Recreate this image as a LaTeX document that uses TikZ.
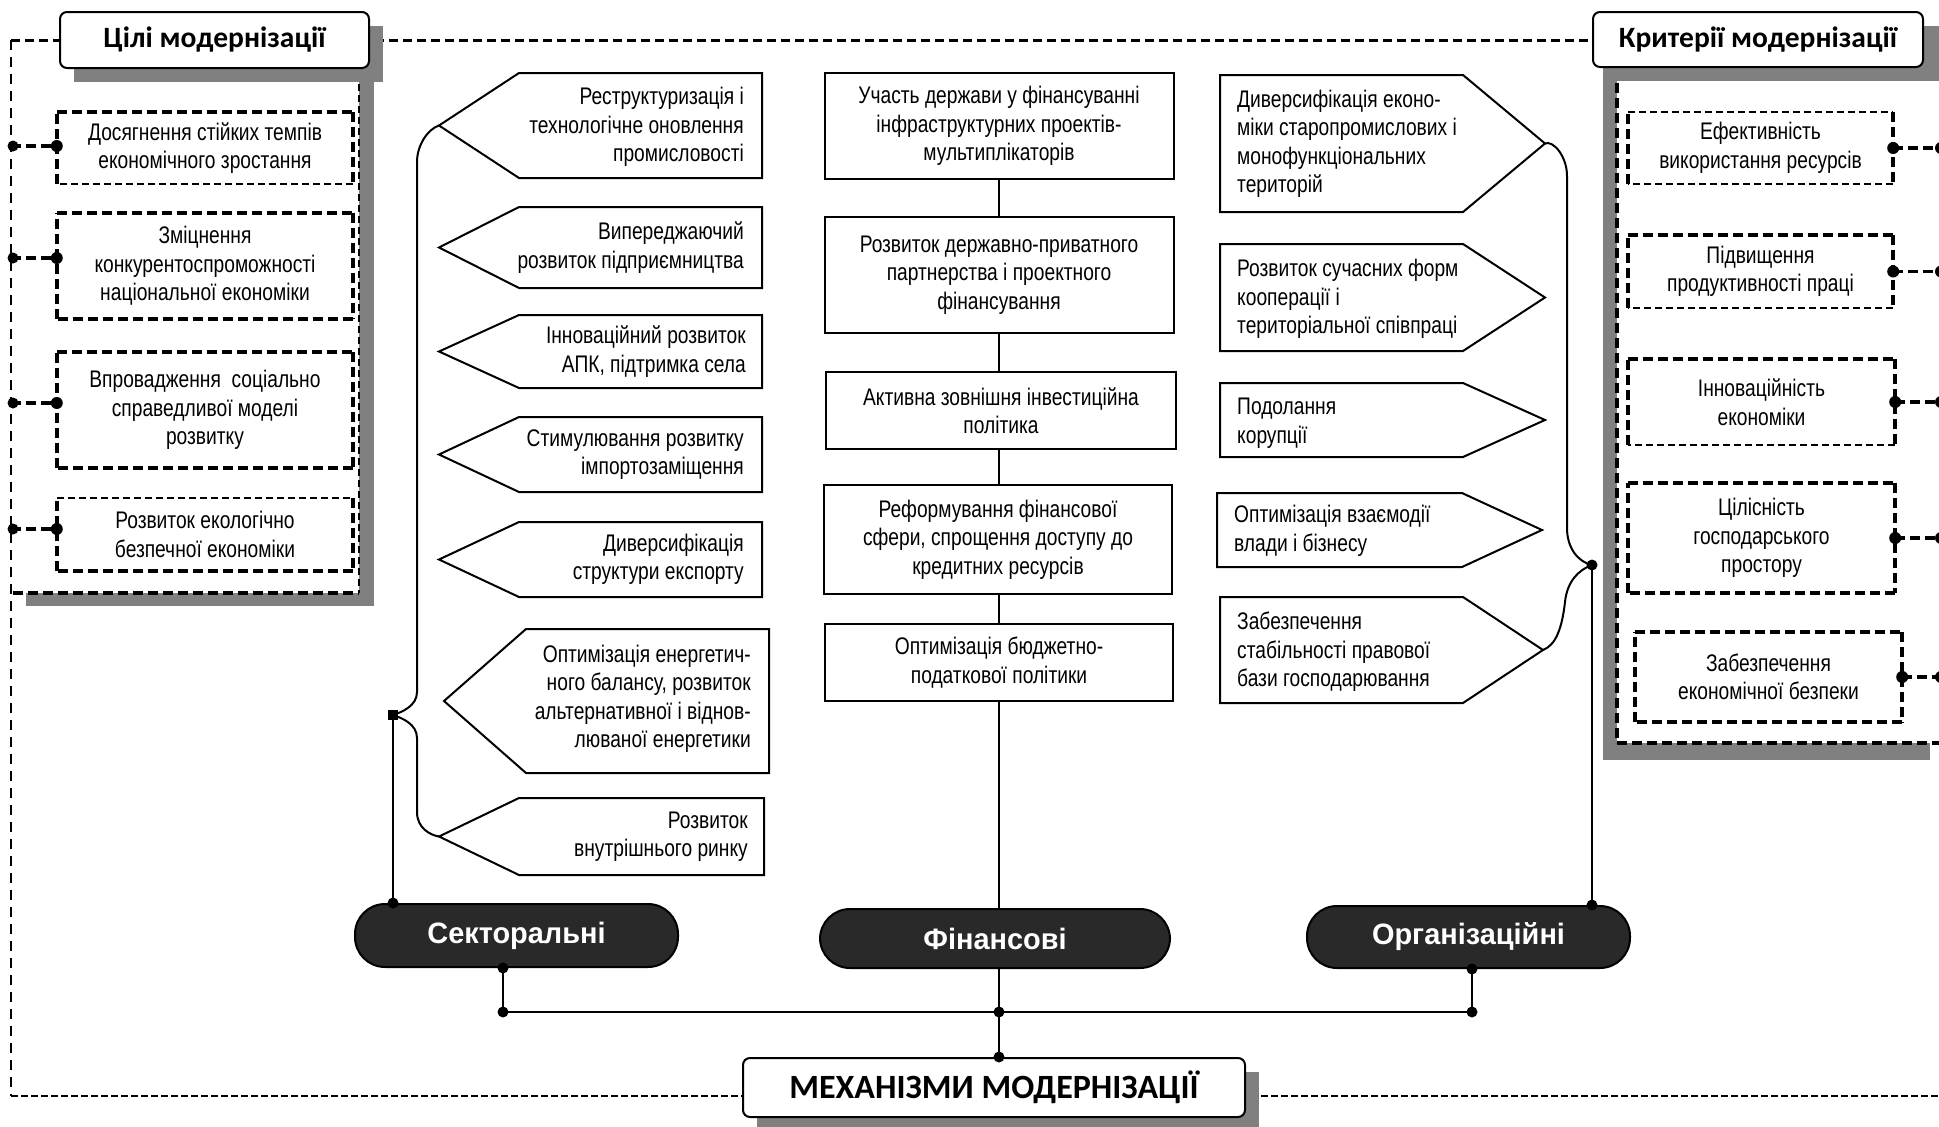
\documentclass[tikz,border=0pt]{standalone}
\usepackage{fontspec}
\setmainfont[FakeStretch=0.8]{Liberation Sans}
\newfontfamily\hdfont{Carlito}
\newfontfamily\dkfont[FakeStretch=0.98]{Liberation Sans}
\usetikzlibrary{calc}
\definecolor{shd}{gray}{0.5}
\definecolor{drk}{gray}{0.16}
\newcommand\boxsides[5]{%
  \draw[#2] (#1.north west) -- (#1.north east);
  \draw[#3] (#1.north east) -- (#1.south east);
  \draw[#4] (#1.south east) -- (#1.south west);
  \draw[#5] (#1.south west) -- (#1.north west);}
% name, tipx, flatx, rightx, top, bottom
\newcommand\pentl[6]{%
  \draw[pent] (#3,#5) -- (#4,#5) -- (#4,#6) -- (#3,#6) -- (#2,{(#5+#6)/2}) -- cycle;
  \coordinate (#1) at (#2,{(#5+#6)/2});}
% name, leftx, flatx, tipx, top, bottom
\newcommand\pentr[6]{%
  \draw[pent] (#2,#5) -- (#3,#5) -- (#4,{(#5+#6)/2}) -- (#3,#6) -- (#2,#6) -- cycle;
  \coordinate (#1) at (#4,{(#5+#6)/2});}
\begin{document}
\begin{tikzpicture}[x=1pt,y=-1pt,
  txt/.style={font=\fontsize{24}{28.5}\selectfont, inner sep=0pt},
  hdr/.style={draw, line width=2pt, fill=white, rounded corners=7pt, inner sep=0pt,
    font=\hdfont\bfseries\fontsize{29.5}{34}\selectfont},
  fbox/.style={txt, draw, line width=2pt, fill=white, align=center},
  gbox/.style={txt, align=center},
  pent/.style={draw, line width=2pt, fill=white, line join=miter},
  dnode/.style={draw=black, line width=2pt, fill=drk, rounded corners=30pt, text=white,
    inner sep=0pt, font=\dkfont\bfseries\fontsize{29.5}{34}\selectfont},
  conn/.style={line width=2pt},
  thk/.style={line width=3.5pt, dash pattern=on 10pt off 5pt},
  thn/.style={line width=1.5pt, dash pattern=on 7pt off 4pt},
  fthin/.style={line width=1.2pt, dash pattern=on 10pt off 7pt},
  fthick/.style={line width=3pt, dash pattern=on 9pt off 5pt},
  fbot/.style={line width=2.6pt, dash pattern=on 7pt off 3pt}
]
\useasboundingbox (0,0) rectangle (1939,1127);
\clip (0,0) rectangle (1939,1127);
\fill[white] (0,0) rectangle (1939,1127);

% ---------- panels ----------
\fill[shd] (26,53) rectangle (374,606);
\fill[white] (11,40) rectangle (359,593);
\fill[shd] (1603,57) rectangle (1930,760);
\fill[white] (1617,40) rectangle (1950,743);

% outer frame
\draw[fthin] (11,40) -- (11,1096);
\draw[fthick] (11,40) -- (1950,40);
\draw[fbot] (11,1096) -- (1950,1096);

% panel borders
\draw[thn] (359,40) -- (359,593);
\draw[thk] (13,593) -- (359,593);
\draw[thk] (1617,83) -- (1617,743);
\draw[thk] (1617,743) -- (1950,743);

% headers
\fill[shd] (74,26) rectangle (383,82);
\node[hdr, minimum width=309pt, minimum height=56pt] (hgoal) at (214.5,40) {Цілі модернізації};
\fill[shd] (1607,26) rectangle (1950,81);
\node[hdr, minimum width=330pt, minimum height=55pt] (hcrit) at (1758,39.5) {Критерії модернізації};

% ---------- goals ----------
\node[gbox, minimum width=296pt, minimum height=72pt] (g1) at (205,148) {Досягнення стійких темпів\\економічного зростання};
\node[gbox, minimum width=296pt, minimum height=106pt] (g2) at (205,266) {Зміцнення\\конкурентоспроможності\\національної економіки};
\node[gbox, minimum width=296pt, minimum height=116pt] (g3) at (205,410) {Впровадження\ \ соціально\\справедливої моделі\\розвитку};
\node[gbox, minimum width=296pt, minimum height=73pt] (g4) at (205,534.5) {Розвиток екологічно\\безпечної економіки};
\boxsides{g1}{thk}{thk}{thn}{thk}
\boxsides{g2}{thk}{thk}{thk}{thk}
\boxsides{g3}{thk}{thk}{thk}{thk}
\boxsides{g4}{thn}{thk}{thk}{thk}
\coordinate (gl1) at (11,146);
\coordinate (gl2) at (11,258);
\coordinate (gl3) at (11,403);
\coordinate (gl4) at (11,529);
\foreach \i in {1,2,3,4}{
  \draw[thk] (gl\i) -- (gl\i -| g\i.west);
  \fill (gl\i) ++(2,0) circle (5.5pt);
  \fill (gl\i -| g\i.west) circle (6pt);
}

% ---------- criteria ----------
\node[gbox, minimum width=265pt, minimum height=72pt] (c1) at (1760.5,148) {Ефективність\\використання ресурсів};
\node[gbox, minimum width=265pt, minimum height=73pt] (c2) at (1760.5,271.5) {Підвищення\\продуктивності праці};
\node[gbox, minimum width=267pt, minimum height=86pt] (c3) at (1761.5,402) {Інноваційність\\економіки};
\node[gbox, minimum width=267pt, minimum height=110pt] (c4) at (1761.5,538) {Цілісність\\господарського\\простору};
\node[gbox, minimum width=267pt, minimum height=90pt] (c5) at (1768.5,677) {Забезпечення\\економічної безпеки};
\boxsides{c1}{thn}{thk}{thn}{thk}
\boxsides{c2}{thk}{thk}{thn}{thk}
\boxsides{c3}{thk}{thk}{thn}{thk}
\boxsides{c4}{thk}{thk}{thk}{thk}
\boxsides{c5}{thk}{thk}{thk}{thk}
\foreach \i in {1,...,5}{
  \coordinate (cr\i) at (1941,0);
  \draw[thk] (c\i.east) -- (c\i.east -| cr\i);
  \fill (c\i.east) circle (6pt);
  \fill (c\i.east -| cr\i) circle (6pt);
}

% ---------- sectoral ----------
\pentl{s1tip}{439}{519}{762}{73}{178}
\pentl{s2tip}{439}{519}{762}{207}{288}
\pentl{s3tip}{439}{519}{762}{315}{388}
\pentl{s4tip}{439}{519}{762}{417}{492}
\pentl{s5tip}{439}{519}{762}{522}{597}
\pentl{s6tip}{444}{526}{769}{629}{773}
\pentl{s7tip}{439}{519}{764}{798}{875}
\node[txt, anchor=east, align=right] (s1) at (744,127) {Реструктуризація і\\технологічне оновлення\\промисловості};
\node[txt, anchor=east, align=right] (s2) at (744,247.5) {Випереджаючий\\розвиток підприємництва};
\node[txt, anchor=east, align=right] (s3) at (746,351.5) {Інноваційний розвиток\\АПК, підтримка села};
\node[txt, anchor=east, align=right] (s4) at (744,454.5) {Стимулювання розвитку\\імпортозаміщення};
\node[txt, anchor=east, align=right] (s5) at (744,559.5) {Диверсифікація\\структури експорту};
\node[txt, anchor=east, align=right] (s6) at (751,699) {Оптимізація енергетич-\\ного балансу, розвиток\\альтернативної і віднов-\\люваної енергетики};
\node[txt, anchor=east, align=right] (s7) at (748,836.5) {Розвиток\\внутрішнього ринку};

% ---------- financial ----------
\node[fbox, minimum width=349pt, minimum height=106pt] (f1) at (999,126) {Участь держави у фінансуванні\\інфраструктурних проектів-\\мультиплікаторів};
\node[fbox, minimum width=349pt, minimum height=116pt] (f2) at (999,275) {Розвиток державно-приватного\\партнерства і проектного\\фінансування};
\node[fbox, minimum width=350pt, minimum height=77pt] (f3) at (1001,410.5) {Активна зовнішня інвестиційна\\політика};
\node[fbox, minimum width=348pt, minimum height=109pt] (f4) at (998,539.5) {Реформування фінансової\\сфери, спрощення доступу до\\кредитних ресурсів};
\node[fbox, minimum width=348pt, minimum height=77pt] (f5) at (999,662.5) {Оптимізація бюджетно-\\податкової політики};

% ---------- organisational ----------
\pentr{o1tip}{1220}{1463}{1545}{75}{212}
\pentr{o2tip}{1220}{1463}{1545}{244}{351}
\pentr{o3tip}{1220}{1463}{1545}{383}{457}
\pentr{o4tip}{1217}{1462}{1542}{493}{567}
\pentr{o5tip}{1220}{1463}{1543}{597}{703}
\node[txt, anchor=west, align=left] (o1) at (1237,144) {Диверсифікація еконо-\\міки старопромислових і\\монофункціональних\\територій};
\node[txt, anchor=west, align=left] (o2) at (1237,299) {Розвиток сучасних форм\\кооперації і\\територіальної співпраці};
\node[txt, anchor=west, align=left] (o3) at (1237,423) {Подолання\\корупції};
\node[txt, anchor=west, align=left] (o4) at (1234,531) {Оптимізація взаємодії\\влади і бізнесу};
\node[txt, anchor=west, align=left] (o5) at (1237,652) {Забезпечення\\стабільності правової\\бази господарювання};

% ---------- bottom nodes ----------
\coordinate (lcusp) at (393,715);
\coordinate (rcusp) at (1592,565);
\coordinate (bl) at (503,1012);
\coordinate (bc) at (999,1012);
\coordinate (br) at (1472,1012);

% MEX box
\fill[shd] (757,1072) rectangle (1259,1131);
\node[hdr, minimum width=502pt, minimum height=59pt, font=\hdfont\bfseries\fontsize{34}{38}\selectfont] (mex) at (994,1087.5) {МЕХАНІЗМИ МОДЕРНІЗАЦІЇ};

% connectors
\draw[conn] (f1.south) -- (f2.north);
\draw[conn] (f2.south) -- (f2.south |- f3.north);
\draw[conn] (f3.south -| f2.south) -- (f2.south |- f4.north);
\draw[conn] (f4.south -| f2.south) -- (f5.north);
\draw[conn] (f5.south) -- (bc) -- (bc |- mex.north);
\draw[conn] (s1tip) .. controls (428,129) and (417,145) .. (417,162) -- (417,692)
  .. controls (417,706) and (402,712) .. (lcusp)
  .. controls (402,718) and (417,724) .. (417,738) -- (417,812)
  .. controls (417,828) and (430,835) .. (s7tip);
\draw[conn] (o1tip) .. controls (1553,140) and (1567,156) .. (1567,176) -- (1567,528)
  .. controls (1567,548) and (1578,562) .. (rcusp)
  .. controls (1578,570) and (1567,582) .. (1565,602)
  .. controls (1562,628) and (1556,645) .. (o5tip);
\draw[conn] (lcusp) -- (lcusp |- 0,905);
\draw[conn] (rcusp) -- (rcusp |- 0,905);
\draw[conn] (bl |- 0,965) -- (bl) -- (br) -- (br |- 0,965);

\node[dnode, minimum width=323pt, minimum height=63pt] (sect) at (516.5,935.5) {Секторальні};
\node[dnode, minimum width=350pt, minimum height=59pt] (fin) at (995,938.5) {Фінансові};
\node[dnode, minimum width=323pt, minimum height=62pt] (org) at (1468.5,937) {Організаційні};

% dots
\fill (lcusp) ++(-5,-5) rectangle ++(10,10);
\fill (lcusp |- sect.north) circle (5.5pt);
\fill (bl |- sect.south) circle (5.5pt);
\fill (bl) circle (5.5pt);
\fill (bc) circle (5.5pt);
\fill (br) circle (5.5pt);
\fill (br |- org.south) circle (5.5pt);
\fill (rcusp |- org.north) circle (5.5pt);
\fill (rcusp) circle (5.5pt);
\fill (bc |- mex.north) circle (5.5pt);
\end{tikzpicture}
\end{document}
